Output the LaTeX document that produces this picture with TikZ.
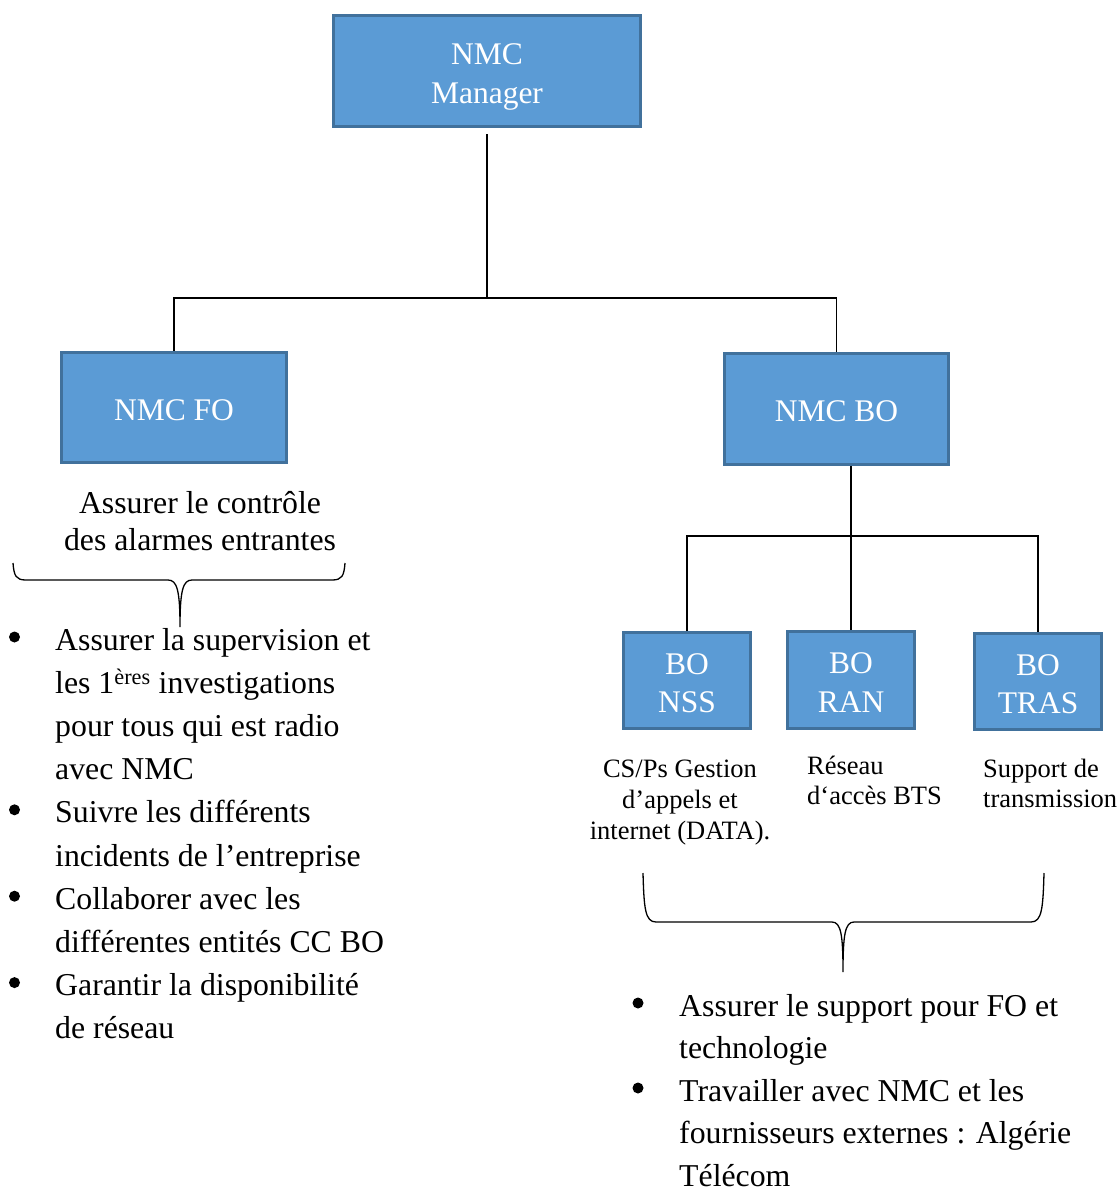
\documentclass[tikz,border=0pt]{standalone}
\usepackage{fontspec}
\setmainfont{Liberation Serif}
\usetikzlibrary{calc}
\definecolor{boxfill}{HTML}{5B9BD5}
\definecolor{boxline}{HTML}{41719C}
\begin{document}
\begin{tikzpicture}[x=1pt,y=-1pt,
  unit/.style={draw=boxline, line width=3pt, fill=boxfill, text=white,
    align=center, inner sep=0pt, text depth=0pt, text height=64pt,
    font=\fontsize{31.5}{38.5}\selectfont},
  oneline/.style={text height=25pt},
  link/.style={draw=black, line width=1.3pt},
  brace/.style={draw=black, line width=1.3pt},
  bigtext/.style={inner sep=0pt, align=left, anchor=base west,
    font=\fontsize{31.8}{43.2}\selectfont},
  smalltext/.style={inner sep=0pt, anchor=base,
    font=\fontsize{26.5}{31}\selectfont},
  dot/.style={fill=black}]
\useasboundingbox (0,0) rectangle (1118,1189);

% organisation boxes (multi-line texts are anchored on their last line)
\node[unit, minimum width=307pt, minimum height=111pt] (mgr) at (487,71) {NMC\\Manager};
\node[unit, oneline, minimum width=225pt, minimum height=110pt] (fo) at (174,407.5) {NMC FO};
\node[unit, oneline, minimum width=224pt, minimum height=111pt] (bo) at (836.5,409) {NMC BO};
\node[unit, minimum width=127pt, minimum height=96pt] (nss) at (687,680.5) {BO\\NSS};
\node[unit, minimum width=127pt, minimum height=97pt] (ran) at (851,680) {BO\\RAN};
\node[unit, minimum width=127pt, minimum height=96pt] (tras) at (1038,681.5) {BO\\TRAS};

% tree connectors
\coordinate (top) at (487,298);
\coordinate (mid) at (851,536);
\draw[link] ([yshift=-6pt]mgr.south) -- (top);
\draw[link] (fo.north) |- (top) -| (bo.north);
\draw[link] (ran.north |- bo.south) -- (mid);
\draw[link] (nss.north) |- (mid) -| (tras.north);
\draw[link] (mid) -- (ran.north);

% FO caption
\node[smalltext, font=\fontsize{31.8}{37}\selectfont, align=center] (focap) at (200,550)
  {Assurer le contrôle\\des alarmes entrantes};

% BO unit captions
\node[smalltext, align=center] (nsscap) at (680,839)
  {CS/Ps Gestion\\d’appels et\\internet (DATA).};
\node[smalltext, font=\fontsize{26.5}{30}\selectfont, align=left, anchor=base west] (rancap) at (807,804)
  {Réseau\\d‘accès BTS};
\node[smalltext, font=\fontsize{26.5}{30}\selectfont, align=left, anchor=base west] (trascap) at (983,807)
  {Support de\\transmission};

% braces
\draw[brace] (13,563) .. controls (14,576) and (16,580) .. (26,580)
  -- (168,580) .. controls (177,580) and (180,590) .. (180,627)
  .. controls (180,590) and (183,580) .. (192,580)
  -- (332,580) .. controls (342,580) and (344,576) .. (345,563);
\draw[brace] (643,873) .. controls (644,908) and (645,922) .. (656,922)
  -- (832,922) .. controls (841,922) and (843,935) .. (843,972)
  .. controls (843,935) and (845,922) .. (854,922)
  -- (1031,922) .. controls (1042,922) and (1043,908) .. (1044,873);

% FO task list
\node[bigtext] (fo1) at (55,779.6)
  {Assurer la supervision et\\les 1\textsuperscript{ères} investigations\\pour tous qui est radio\\avec NMC};
\node[bigtext] (fo2) at (55,866) {Suivre les différents\\incidents de l’entreprise};
\node[bigtext] (fo3) at (55,952.4) {Collaborer avec les\\différentes entités CC BO};
\node[bigtext] (fo4) at (55,1038.8) {Garantir la disponibilité\\de réseau};
\foreach \y in {650,822.8,909.2,995.6} \fill[dot] (14.5,\y-13) circle (5.5pt);

% BO task list
\node[bigtext, font=\fontsize{31.8}{42.5}\selectfont] (bo1) at (679,1058.5) {Assurer le support pour FO et\\technologie};
\node[bigtext, font=\fontsize{31.8}{42.5}\selectfont] (bo2) at (679,1186) {Travailler avec NMC et les\\fournisseurs externes : Algérie\\Télécom};
\foreach \y in {1016,1101} \fill[dot] (638,\y-13) circle (5.5pt);
\end{tikzpicture}
\end{document}
